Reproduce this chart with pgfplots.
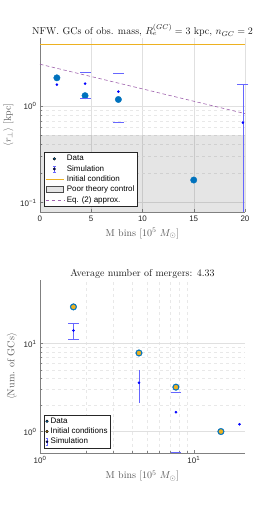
\documentclass[border=0pt]{standalone}
\usepackage{fontspec}
\usepackage{pgfplots}
\pgfplotsset{compat=1.18}
\newfontfamily\arial{Liberation Sans}
\definecolor{mblue}{rgb}{0,0.447,0.741}
\definecolor{morange}{rgb}{0.929,0.694,0.125}
\definecolor{mpurple}{rgb}{0.62,0.38,0.68}
\definecolor{ebar}{rgb}{0.4,0.4,1}
\definecolor{axgray}{rgb}{0.5,0.5,0.5}
\definecolor{tickc}{rgb}{0.15,0.15,0.15}
\pgfplotsset{
  common/.style={
    scale only axis, width=205pt,
    axis x line*=bottom, axis y line*=left,
    axis line style={axgray,-,line width=0.5pt},
    tick style={axgray,line width=0.4pt},
    tick align=inside, major tick length=3pt, minor tick length=1.8pt,
    tick label style={font=\arial\fontsize{8}{9}\selectfont, text=tickc},
    label style={font=\fontsize{10}{12}\selectfont, text=black!65},
    title style={font=\fontsize{10}{12}\selectfont, text=black!90, yshift=-8pt},
    major grid style={black!12, line width=0.4pt},
    minor grid style={black!9, dashed, line width=0.4pt},
    legend cell align=left,
    legend style={font=\arial\fontsize{8}{9}\selectfont, draw=tickc, line width=0.5pt, fill=white, inner sep=1pt, row sep=-1pt, anchor=south west},
  },
  simleg/.style={legend image code/.code={
    \draw[draw=ebar,line width=0.5pt] (0.3cm,-0.11cm)--(0.3cm,0.11cm);
    \draw[draw=ebar,line width=0.5pt] (0.25cm,0.11cm)--(0.35cm,0.11cm);
    \draw[draw=ebar,line width=0.5pt] (0.25cm,-0.11cm)--(0.35cm,-0.11cm);
    \fill[fill=blue] (0.3cm,0cm) circle (1.1pt);}},
  dotleg/.style={legend image code/.code={\fill[fill=#1] (0.3cm,0cm) circle (1.3pt);}},
  lineleg/.style={legend image code/.code={\draw[#1] (0cm,0cm) -- (0.65cm,0cm);}},
}
\begin{document}
\begin{tikzpicture}
\path (0,0) rectangle (266pt,510pt);
% ---------------- top panel
\begin{axis}[common,
  at={(35pt,298pt)}, anchor=south west, height=174pt,
  xmin=0, xmax=20, ymode=log, ymin=0.08, ymax=5,
  xtick={0,5,10,15,20}, xticklabels={0,5,10,15,20},
  ytick={0.1,1}, yticklabels={10\textsuperscript{−1},10\textsuperscript{0}},
  xmajorgrids, ymajorgrids, yminorgrids,
  title={NFW. GCs of obs. mass, $R_e^{(GC)}=3$ kpc, $n_{GC}=2$},
  xlabel={M bins [$10^5$ $M_\odot$]},
  ylabel={$\langle r_\perp\rangle$ [kpc]},
  legend style={at={(0.02,0.03)}},
]
% poor theory region
\addplot[draw=none, fill=black, fill opacity=0.1, forget plot] coordinates {(0,0.01) (0,0.5) (20,0.5) (20,0.01)};
% initial condition
\addplot[color=morange, line width=1pt, mark=none, forget plot] coordinates {(0,4.3) (20,4.3)};
% eq (2)
\addplot[color=mpurple, line width=0.6pt, mark=none, dash pattern=on 3.5pt off 2.5pt, forget plot] coordinates {(0,2.68) (20,0.83)};
% data
\addplot[only marks, mark=*, mark size=3.2pt, color=mblue, forget plot] coordinates {(1.65,1.94) (4.4,1.27) (7.65,1.16) (15.0,0.171)};
% simulation error bars
\addplot[only marks, mark=-, mark size=5.5pt, color=ebar, mark options={line width=0.7pt}, forget plot] coordinates {(4.4,2.20) (4.4,1.20) (7.65,2.15) (7.65,0.67) (19.8,1.65)};
\addplot[color=ebar, mark=none, line width=0.7pt, forget plot] coordinates {(19.8,1.65) (19.8,0.05)};
\addplot[only marks, mark=*, mark size=1.1pt, color=blue, forget plot] coordinates {(1.65,1.65) (4.4,1.69) (7.65,1.40) (19.8,0.67)};
% legend
\addlegendimage{dotleg=mblue}
\addlegendentry{Data}
\addlegendimage{simleg}
\addlegendentry{Simulation}
\addlegendimage{lineleg={draw=morange, line width=1pt}}
\addlegendentry{Initial condition}
\addlegendimage{area legend, fill=black!10, draw=black!70}
\addlegendentry{Poor theory control}
\addlegendimage{lineleg={draw=mpurple, line width=0.6pt, dash pattern=on 3.5pt off 2.5pt}}
\addlegendentry{Eq. (2) approx.}
\end{axis}
% ---------------- bottom panel
\begin{axis}[common,
  at={(35pt,57pt)}, anchor=south west, height=173pt,
  xmode=log, ymode=log, xmin=1, xmax=21.5, ymin=0.57, ymax=53,
  xtick={1,10}, xticklabels={10\textsuperscript{0},10\textsuperscript{1}},
  ytick={1,10}, yticklabels={10\textsuperscript{0},10\textsuperscript{1}},
  xminorgrids, ymajorgrids, yminorgrids,
  title={Average number of mergers: 4.33},
  xlabel={M bins [$10^5$ $M_\odot$]},
  ylabel={$\langle$Num. of GCs$\rangle$},
  legend style={at={(0.02,0.025)}},
]
\addplot[only marks, mark=*, mark size=3.3pt, color=mblue, forget plot] coordinates {(1.65,26.2) (4.4,7.83) (7.65,3.2) (15.0,1.0)};
\addplot[only marks, mark=*, mark size=2pt, color=morange, forget plot] coordinates {(1.65,26.2) (4.4,7.83) (7.65,3.2) (15.0,1.0)};
% simulation bars
\addplot[color=ebar, mark=none, line width=0.7pt, forget plot] coordinates {(1.65,16.8) (1.65,11.1)};
\addplot[color=ebar, mark=none, line width=0.7pt, forget plot] coordinates {(4.4,4.96) (4.4,2.14)};
\addplot[only marks, mark=-, mark size=5.3pt, color=ebar, mark options={line width=0.7pt}, forget plot] coordinates {(1.65,16.8) (1.65,11.1) (7.65,2.81) (7.65,0.575)};
\addplot[only marks, mark=*, mark size=1.1pt, color=blue, forget plot] coordinates {(1.65,14.1) (4.4,3.59) (7.65,1.66) (19.8,1.21)};
\addlegendimage{dotleg=mblue}
\addlegendentry{Data}
\addlegendimage{dotleg=morange}
\addlegendentry{Initial conditions}
\addlegendimage{simleg}
\addlegendentry{Simulation}
\end{axis}
\end{tikzpicture}
\end{document}
